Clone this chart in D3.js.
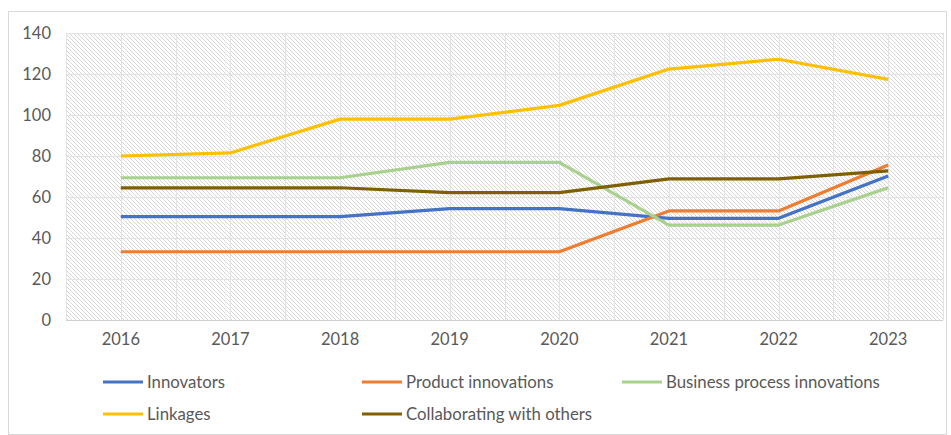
<!DOCTYPE html>
<html><head><meta charset="utf-8">
<script src="https://cdn.jsdelivr.net/npm/d3@7/dist/d3.min.js"></script>
<style>
html,body{margin:0;padding:0;background:#fff;}
svg{display:block;}
text{font-family:Lato,"Open Sans",sans-serif;fill:#595959;}
</style></head>
<body>
<svg id="c" width="951" height="435"></svg>
<script>
const years = ["2016","2017","2018","2019","2020","2021","2022","2023"];
const yTicks = [0,20,40,60,80,100,120,140];
const innovators = [50.4,50.4,50.4,54.3,54.3,49.6,49.6,70.2];
const productInnovations = [33.3,33.3,33.3,33.3,33.3,53.2,53.2,75.6];
const businessProcess = [69.4,69.4,69.4,76.9,76.9,46.3,46.3,64.5];
const linkages = [80,81.5,98,98,104.7,122.4,127.2,117.4];
const collaborating = [64.5,64.5,64.5,62.1,62.1,68.8,68.8,72.7];
const seriesNames = ["Innovators","Product innovations","Business process innovations","Linkages","Collaborating with others"];
const seriesColors = ["#4472C4","#ED7D31","#A9D18E","#FFC000","#7F6000"];
const seriesValues = [innovators,productInnovations,businessProcess,linkages,collaborating];

const svg = d3.select("#c");
const L=66, R=943, T=33, B=320;

svg.append("rect").attr("x",8.5).attr("y",11.5).attr("width",938).attr("height",423)
  .attr("fill","#fff").attr("stroke","#d9d9d9");

const defs = svg.append("defs");
const pat = defs.append("pattern").attr("id","hatch").attr("patternUnits","userSpaceOnUse")
  .attr("width",4).attr("height",4);
pat.append("rect").attr("width",4).attr("height",4).attr("fill","#fff");
pat.append("path").attr("d","M-1,-1 L5,5 M3,-1 L5,1 M-1,3 L1,5").attr("stroke","#d6d6d6").attr("stroke-width",1);

const x = d3.scaleBand().domain(years).range([L,R]).padding(0);
const y = d3.scaleLinear().domain([0,140]).range([B,T]);

svg.append("rect").attr("x",L).attr("y",T).attr("width",R-L).attr("height",B-T).attr("fill","url(#hatch)");

svg.append("g").selectAll("line").data(yTicks).join("line")
  .attr("x1",L).attr("x2",R).attr("y1",d=>Math.round(y(d))+0.5).attr("y2",d=>Math.round(y(d))+0.5)
  .attr("stroke","#e3e3e3").attr("stroke-width",1);
const vx = [];
years.forEach(d=>{vx.push(x(d)); vx.push(x(d)+x.bandwidth()/2);});
vx.push(R);
svg.append("g").selectAll("line").data(vx).join("line")
  .attr("x1",d=>Math.round(d)+0.5).attr("x2",d=>Math.round(d)+0.5).attr("y1",T).attr("y2",B)
  .attr("stroke","#e3e3e3").attr("stroke-width",1);
svg.append("line").attr("x1",L).attr("x2",R).attr("y1",B+0.5).attr("y2",B+0.5).attr("stroke","#d0d0d0");

const yAxis = d3.axisLeft(y).tickValues(yTicks).tickSize(0).tickPadding(0);
const gy = svg.append("g").attr("transform",`translate(51,0)`).call(yAxis);
gy.select(".domain").remove();
gy.selectAll("text").attr("font-size",16.5).attr("fill","#595959").style("font-family","Lato,'Open Sans',sans-serif");

const xAxis = d3.axisBottom(x).tickSize(0).tickPadding(0);
const gx = svg.append("g").attr("transform",`translate(0,333)`).call(xAxis);
gx.select(".domain").remove();
gx.selectAll("text").attr("font-size",16.5).attr("fill","#595959").style("font-family","Lato,'Open Sans',sans-serif");

const line = d3.line().x((d,i)=>x(years[i])+x.bandwidth()/2).y(d=>y(d));
seriesValues.forEach((vals,i)=>{
  svg.append("path").datum(vals).attr("d",line).attr("fill","none")
    .attr("stroke",seriesColors[i]).attr("stroke-width",3.2).attr("stroke-linejoin","round");
});

const legPos = [[103,382],[362,382],[622,382],[103,414],[362,414]];
seriesNames.forEach((n,i)=>{
  const [lx,ly]=legPos[i];
  svg.append("line").attr("x1",lx).attr("x2",lx+40).attr("y1",ly).attr("y2",ly)
    .attr("stroke",seriesColors[i]).attr("stroke-width",3.2);
  svg.append("text").attr("x",lx+44).attr("y",ly).attr("dy","0.35em").attr("font-size",16.8).text(n);
});
</script>
</body></html>
